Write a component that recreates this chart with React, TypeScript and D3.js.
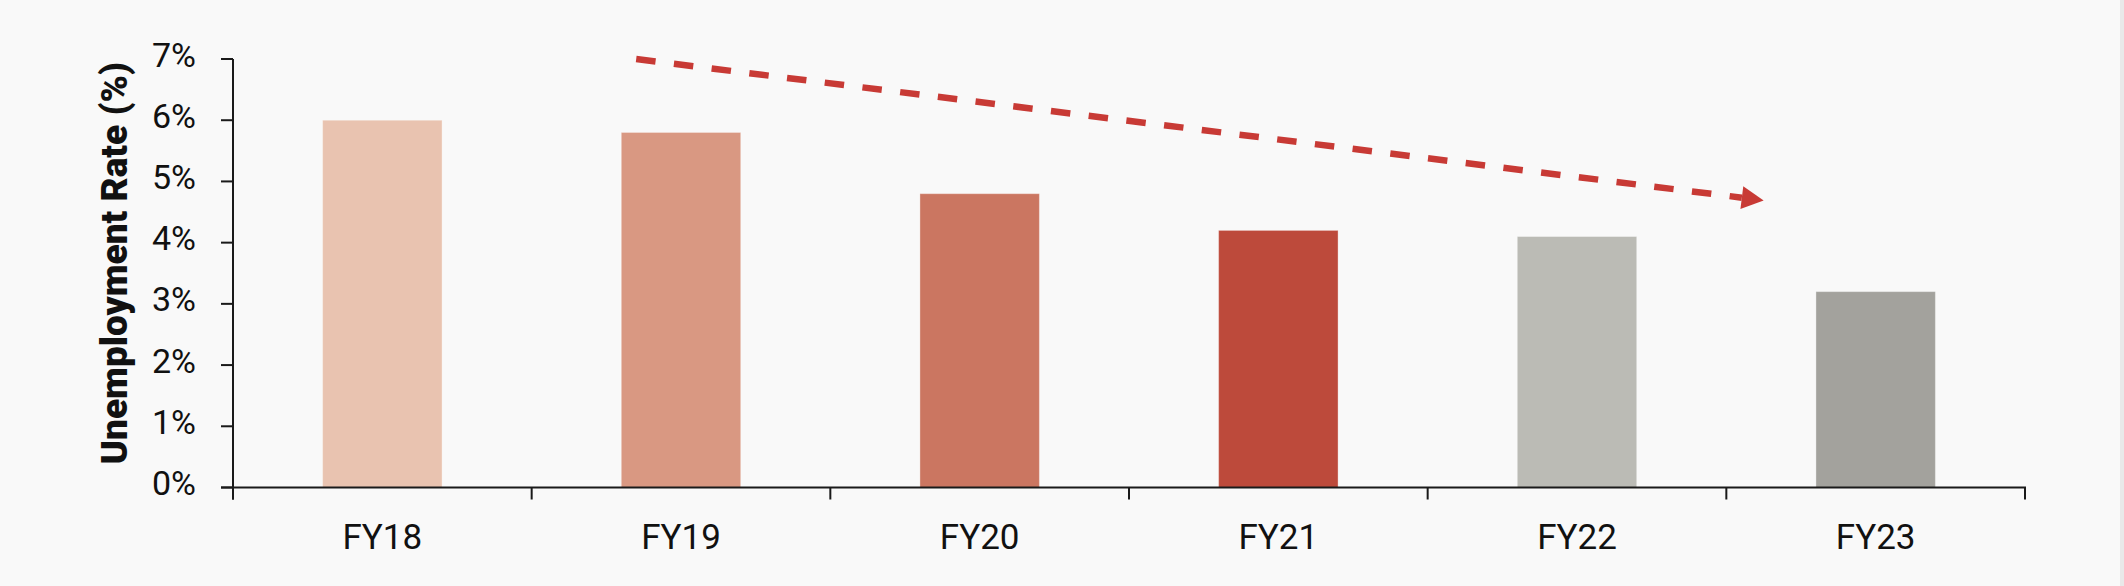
import React, { useEffect, useRef } from "react";
import * as d3 from "d3";

const categories = ["FY18", "FY19", "FY20", "FY21", "FY22", "FY23"];
const rates = [6.0, 5.8, 4.8, 4.2, 4.1, 3.2];
const barColors = ["#e9c3b0", "#d99882", "#cb7661", "#bd4a3b", "#bbbbb5", "#a3a29d"];
const yTicks = [0, 1, 2, 3, 4, 5, 6, 7];
const yTickLabels = ["0%", "1%", "2%", "3%", "4%", "5%", "6%", "7%"];
const yTitle = "Unemployment Rate (%)";
// trend arrow in data space: position in category units (0..6) and value (%)
const trendStart = { pos: 1.35, value: 7.0 };
const trendEnd = { pos: 5.125, value: 4.69 };

const W = 2124;
const H = 586;
const M = { top: 59, right: 99, bottom: 98.5, left: 233 };

export default function App() {
  const ref = useRef<SVGSVGElement | null>(null);

  useEffect(() => {
    document.body.style.margin = "0";
    const svg = d3.select(ref.current);
    svg.selectAll("*").remove();

    svg.append("rect").attr("width", W).attr("height", H).attr("fill", "#f9f9f9");
    svg.append("rect").attr("x", W - 4).attr("width", 4).attr("height", H).attr("fill", "#e9e9e9");

    const x0 = M.left;
    const x1 = W - M.right;
    const y0 = H - M.bottom;
    const y1 = M.top;

    const x = d3.scaleBand<string>().domain(categories).range([x0, x1]).paddingInner(0.6).paddingOuter(0.3);
    const xPos = d3.scaleLinear().domain([0, categories.length]).range([x0, x1]);
    const y = d3.scaleLinear().domain([0, 7]).range([y0, y1]);

    const font = "Roboto, 'Open Sans', sans-serif";

    // bars
    svg
      .append("g")
      .selectAll("rect")
      .data(categories)
      .join("rect")
      .attr("x", (d) => x(d)!)
      .attr("y", (_d, i) => y(rates[i]))
      .attr("width", x.bandwidth())
      .attr("height", (_d, i) => y0 - y(rates[i]))
      .attr("fill", (_d, i) => barColors[i])
      .attr("stroke", "#ffffff")
      .attr("stroke-opacity", 0.35)
      .attr("stroke-width", 1);

    const axisColor = "#1a1a1a";

    // y axis
    const gy = svg.append("g");
    gy.append("line")
      .attr("x1", x0).attr("x2", x0).attr("y1", y1).attr("y2", y0 + 12)
      .attr("stroke", axisColor).attr("stroke-width", 2);
    gy.selectAll("line.tick")
      .data(yTicks)
      .join("line")
      .attr("class", "tick")
      .attr("x1", x0 - 12).attr("x2", x0)
      .attr("y1", (d) => y(d)).attr("y2", (d) => y(d))
      .attr("stroke", axisColor).attr("stroke-width", 2);
    gy.selectAll("text")
      .data(yTicks)
      .join("text")
      .attr("x", x0 - 37)
      .attr("y", (d) => y(d) + 7.5)
      .attr("text-anchor", "end")
      .attr("font-family", font)
      .attr("font-size", 34)
      .attr("fill", "#111")
      .text((_d, i) => yTickLabels[i]);

    // x axis
    const gx = svg.append("g");
    gx.append("line")
      .attr("x1", x0 - 12).attr("x2", x1 + 1).attr("y1", y0).attr("y2", y0)
      .attr("stroke", axisColor).attr("stroke-width", 2);
    const bounds = d3.range(categories.length + 1).map((i) => xPos(i));
    gx.selectAll("line.tick")
      .data(bounds)
      .join("line")
      .attr("class", "tick")
      .attr("x1", (d) => d).attr("x2", (d) => d)
      .attr("y1", y0).attr("y2", y0 + 12)
      .attr("stroke", axisColor).attr("stroke-width", 2);
    gx.selectAll("text")
      .data(categories)
      .join("text")
      .attr("x", (d) => x(d)! + x.bandwidth() / 2)
      .attr("y", y0 + 61)
      .attr("text-anchor", "middle")
      .attr("font-family", font)
      .attr("font-size", 35)
      .attr("fill", "#111")
      .text((d) => d);

    // y title
    svg.append("text")
      .attr("transform", `translate(127,${(y0 + y1) / 2 - 10}) rotate(-90)`)
      .attr("text-anchor", "middle")
      .attr("font-family", font)
      .attr("font-size", 37)
      .attr("font-weight", 900)
      .attr("fill", "#111")
      .text(yTitle);

    // trend arrow
    const sx = xPos(trendStart.pos);
    const sy = y(trendStart.value);
    const ex = xPos(trendEnd.pos);
    const ey = y(trendEnd.value);
    const ang = Math.atan2(ey - sy, ex - sx);
    const headLen = 22;
    const headHalf = 11.5;
    const bx = ex - headLen * Math.cos(ang);
    const by = ey - headLen * Math.sin(ang);
    const red = "#c83a35";
    svg.append("line")
      .attr("x1", sx).attr("y1", sy).attr("x2", bx).attr("y2", by)
      .attr("stroke", red).attr("stroke-width", 6.5)
      .attr("stroke-dasharray", "19.5 18.5");
    const px = -Math.sin(ang);
    const py = Math.cos(ang);
    svg.append("polygon")
      .attr(
        "points",
        [
          [ex, ey],
          [bx + px * headHalf, by + py * headHalf],
          [bx - px * headHalf, by - py * headHalf],
        ]
          .map((p) => p.join(","))
          .join(" ")
      )
      .attr("fill", red);
  }, []);

  return <svg ref={ref} width={W} height={H} style={{ display: "block" }} />;
}
